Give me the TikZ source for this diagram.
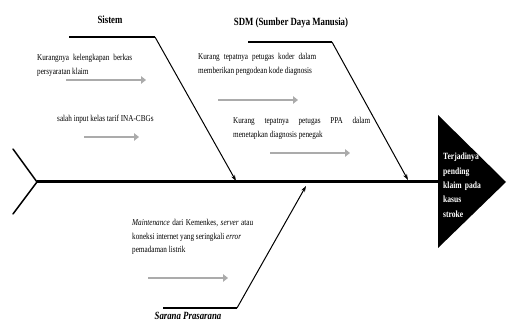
\documentclass[tikz,border=0pt]{standalone}
\usepackage{fontspec}
\setmainfont{Liberation Serif}[FakeStretch=0.8]
\usetikzlibrary{arrows.meta}
\begin{document}
\begin{tikzpicture}[x=1pt,y=-1pt,
  bone/.style={line width=1.3pt,black},
  causearrow/.style={line width=2.4pt,color=black!33,-{Triangle[length=5pt,width=7.5pt]}},
  txt/.style={anchor=base west,inner sep=0pt,font=\fontsize{9}{14}\selectfont,align=justify},
  head/.style={inner sep=0pt,font=\fontsize{11}{12}\selectfont\bfseries}]
\useasboundingbox (0,0) rectangle (507,323);
% spine
\coordinate (tailtop) at (13,149);
\coordinate (tailbot) at (13,214);
\coordinate (tail) at (37,182);
\coordinate (head) at (438,182);
\draw[line width=1.5pt,line cap=round] (tailtop) -- (tail) -- (tailbot);
\draw[line width=3pt] (tail) -- (head);
\fill[black] (438,115) -- (506,182) -- (438,248) -- cycle;
\node[anchor=base west,inner sep=0pt,text width=45pt,text=white,
      font=\fontsize{9.5}{14.3}\selectfont\bfseries,align=left] (eff) at (443,160)
  {Terjadinya\\ pending\\ klaim pada\\ kasus\\ stroke};
% Sistem bone
\node[head] (sistem) at (110,20) {Sistem};
\coordinate (s1) at (69,37);
\coordinate (s2) at (155,37);
\coordinate (s3) at (236,181);
\draw[bone] (s1) -- (s2);
\draw[bone,line width=1pt,-{Stealth[length=6pt,width=4pt]}] (s2) -- (s3);
% SDM bone
\node[head] (sdm) at (291,23) {SDM (Sumber Daya Manusia)};
\coordinate (d1) at (248,42);
\coordinate (d2) at (332,42);
\coordinate (d3) at (408,180);
\draw[bone] (d1) -- (d2);
\draw[bone,line width=1pt,-{Stealth[length=6pt,width=4pt]}] (d2) -- (d3);
% Sarana bone
\node[head,font=\fontsize{11}{12}\selectfont\bfseries\itshape] (sarana) at (188,316) {Sarana Prasarana};
\coordinate (p1) at (163,308);
\coordinate (p2) at (237,308);
\coordinate (p3) at (306,186);
\draw[bone] (p1) -- (p2);
\draw[bone,line width=1pt,-{Stealth[length=6pt,width=4pt]}] (p2) -- (p3);
% causes
\node[txt,text width=95pt] (c1) at (37,61) {Kurangnya kelengkapan berkas\linebreak persyaratan klaim};
\coordinate (a1s) at (66,80); \coordinate (a1e) at (146,80);
\draw[causearrow] (a1s) -- (a1e);
\node[txt,text width=110pt] (c2) at (57,122) {salah input kelas tarif INA-CBGs};
\coordinate (a2s) at (84,137); \coordinate (a2e) at (139,137);
\draw[causearrow] (a2s) -- (a2e);
\node[txt,text width=118pt] (c3) at (198,60) {Kurang tepatnya petugas koder dalam\linebreak memberikan pengodean kode diagnosis};
\coordinate (a3s) at (218,100); \coordinate (a3e) at (298,100);
\draw[causearrow] (a3s) -- (a3e);
\node[txt,text width=137pt] (c4) at (233,124) {Kurang tepatnya petugas PPA dalam\linebreak menetapkan diagnosis penegak};
\coordinate (a4s) at (270,153); \coordinate (a4e) at (350,153);
\draw[causearrow] (a4s) -- (a4e);
\node[txt,text width=121pt,font=\fontsize{9}{13.5}\selectfont] (c5) at (132,226) {\textit{Maintenance} dari Kemenkes, \textit{server} atau\linebreak koneksi internet yang seringkali \textit{error}\\ pemadaman listrik};
\coordinate (a5s) at (148,278); \coordinate (a5e) at (228,278);
\draw[causearrow] (a5s) -- (a5e);
\end{tikzpicture}
\end{document}
